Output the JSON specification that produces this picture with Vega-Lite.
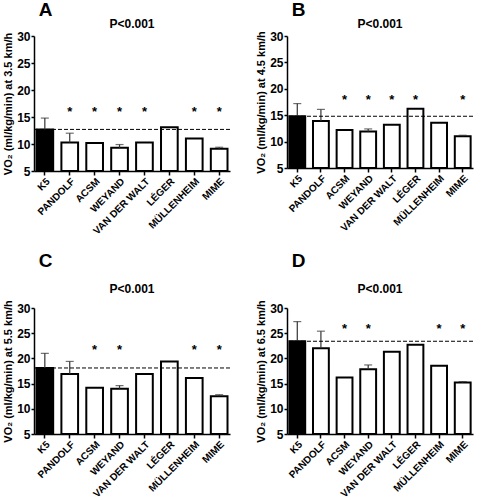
{
  "$schema": "https://vega.github.io/schema/vega-lite/v6.json",
  "padding": {"left": 2, "top": 1, "right": 2, "bottom": 0},
  "datasets": {
    "vo2": [
      {"panel": "A", "method": "K5", "value": 12.7, "err": 14.8, "sig": false, "star": 16.4},
      {"panel": "A", "method": "PANDOLF", "value": 10.3, "err": 12.0, "sig": true, "star": 16.4},
      {"panel": "A", "method": "ACSM", "value": 10.2, "err": null, "sig": true, "star": 16.4},
      {"panel": "A", "method": "WEYAND", "value": 9.3, "err": 9.9, "sig": true, "star": 16.4},
      {"panel": "A", "method": "VAN DER WALT", "value": 10.3, "err": null, "sig": true, "star": 16.4},
      {"panel": "A", "method": "LÉGER", "value": 13.1, "err": null, "sig": false, "star": 16.4},
      {"panel": "A", "method": "MÜLLENHEIM", "value": 11.0, "err": null, "sig": true, "star": 16.4},
      {"panel": "A", "method": "MIME", "value": 9.1, "err": 9.4, "sig": true, "star": 16.4},
      {"panel": "B", "method": "K5", "value": 14.8, "err": 17.2, "sig": false, "star": 18.5},
      {"panel": "B", "method": "PANDOLF", "value": 13.9, "err": 16.1, "sig": false, "star": 18.5},
      {"panel": "B", "method": "ACSM", "value": 12.2, "err": null, "sig": true, "star": 18.5},
      {"panel": "B", "method": "WEYAND", "value": 11.9, "err": 12.4, "sig": true, "star": 18.5},
      {"panel": "B", "method": "VAN DER WALT", "value": 13.2, "err": null, "sig": true, "star": 18.5},
      {"panel": "B", "method": "LÉGER", "value": 16.2, "err": null, "sig": true, "star": 18.5},
      {"panel": "B", "method": "MÜLLENHEIM", "value": 13.55, "err": null, "sig": false, "star": 18.5},
      {"panel": "B", "method": "MIME", "value": 11.0, "err": 11.2, "sig": true, "star": 18.5},
      {"panel": "C", "method": "K5", "value": 18.1, "err": 21.0, "sig": false, "star": 22.2},
      {"panel": "C", "method": "PANDOLF", "value": 16.9, "err": 19.4, "sig": false, "star": 22.2},
      {"panel": "C", "method": "ACSM", "value": 14.2, "err": null, "sig": true, "star": 22.2},
      {"panel": "C", "method": "WEYAND", "value": 14.0, "err": 14.6, "sig": true, "star": 22.2},
      {"panel": "C", "method": "VAN DER WALT", "value": 16.9, "err": null, "sig": false, "star": 22.2},
      {"panel": "C", "method": "LÉGER", "value": 19.4, "err": null, "sig": false, "star": 22.2},
      {"panel": "C", "method": "MÜLLENHEIM", "value": 16.1, "err": null, "sig": true, "star": 22.2},
      {"panel": "C", "method": "MIME", "value": 12.5, "err": 12.8, "sig": true, "star": 22.2},
      {"panel": "D", "method": "K5", "value": 23.4, "err": 27.3, "sig": false, "star": 26.5},
      {"panel": "D", "method": "PANDOLF", "value": 22.0, "err": 25.4, "sig": false, "star": 26.5},
      {"panel": "D", "method": "ACSM", "value": 16.2, "err": null, "sig": true, "star": 26.5},
      {"panel": "D", "method": "WEYAND", "value": 17.85, "err": 18.7, "sig": true, "star": 26.5},
      {"panel": "D", "method": "VAN DER WALT", "value": 21.3, "err": null, "sig": false, "star": 26.5},
      {"panel": "D", "method": "LÉGER", "value": 22.7, "err": null, "sig": false, "star": 26.5},
      {"panel": "D", "method": "MÜLLENHEIM", "value": 18.55, "err": null, "sig": true, "star": 26.5},
      {"panel": "D", "method": "MIME", "value": 15.2, "err": 15.4, "sig": true, "star": 26.5}
    ]
  },
  "data": {"name": "vo2"},
  "spacing": 15,
  "vconcat": [
    {
      "spacing": 24,
      "hconcat": [
        {
          "title": {"text": "A", "anchor": "start", "fontSize": 19, "dx": 36, "offset": -2},
          "vconcat": [{
            "width": 196, "height": 135,
            "title": {"text": "P<0.001", "fontSize": 12, "offset": -1},
            "transform": [{"filter": "datum.panel === 'A'"}],
            "layer": [
              {"mark": {"type": "bar", "stroke": "black", "strokeWidth": 2},
               "encoding": {
                 "x": {"field": "method", "type": "nominal", "sort": ["K5", "PANDOLF", "ACSM", "WEYAND", "VAN DER WALT", "LÉGER", "MÜLLENHEIM", "MIME"], "title": null},
                 "y": {"field": "value", "type": "quantitative", "scale": {"domain": [5, 30], "zero": false, "nice": false}, "axis": {"tickCount": 5, "labelOverlap": false}, "title": "VO₂ (ml/kg/min) at 3.5 km/h"},
                 "y2": {"datum": 5},
                 "fill": {"condition": {"test": "datum.method === 'K5'", "value": "black"}, "value": "white"}
               }},
              {"transform": [{"filter": "datum.err != null"}],
               "mark": {"type": "rule", "color": "#333", "strokeWidth": 1.2},
               "encoding": {
                 "x": {"field": "method", "type": "nominal", "sort": ["K5", "PANDOLF", "ACSM", "WEYAND", "VAN DER WALT", "LÉGER", "MÜLLENHEIM", "MIME"]},
                 "y": {"field": "value", "type": "quantitative"},
                 "y2": {"field": "err"}
               }},
              {"transform": [{"filter": "datum.err != null"}],
               "mark": {"type": "tick", "color": "#333", "thickness": 1.2, "size": 8},
               "encoding": {
                 "x": {"field": "method", "type": "nominal", "sort": ["K5", "PANDOLF", "ACSM", "WEYAND", "VAN DER WALT", "LÉGER", "MÜLLENHEIM", "MIME"]},
                 "y": {"field": "err", "type": "quantitative"}
               }},
              {"transform": [{"filter": "datum.method === 'K5'"}],
               "mark": {"type": "rule", "color": "black", "strokeDash": [4, 2], "strokeWidth": 1},
               "encoding": {"y": {"field": "value", "type": "quantitative"}}},
              {"transform": [{"filter": "datum.sig"}],
               "mark": {"type": "text", "text": "*", "fontSize": 13, "fontWeight": "bold", "baseline": "middle", "dy": 3},
               "encoding": {
                 "x": {"field": "method", "type": "nominal", "sort": ["K5", "PANDOLF", "ACSM", "WEYAND", "VAN DER WALT", "LÉGER", "MÜLLENHEIM", "MIME"]},
                 "y": {"field": "star", "type": "quantitative"}
               }}
            ]
          }]
        },
        {
          "title": {"text": "B", "anchor": "start", "fontSize": 19, "dx": 36, "offset": -2},
          "vconcat": [{
            "width": 186, "height": 132,
            "title": {"text": "P<0.001", "fontSize": 12, "offset": -1},
            "transform": [{"filter": "datum.panel === 'B'"}],
            "layer": [
              {"mark": {"type": "bar", "stroke": "black", "strokeWidth": 2},
               "encoding": {
                 "x": {"field": "method", "type": "nominal", "sort": ["K5", "PANDOLF", "ACSM", "WEYAND", "VAN DER WALT", "LÉGER", "MÜLLENHEIM", "MIME"], "title": null},
                 "y": {"field": "value", "type": "quantitative", "scale": {"domain": [5, 30], "zero": false, "nice": false}, "axis": {"tickCount": 5, "labelOverlap": false}, "title": "VO₂ (ml/kg/min) at 4.5 km/h"},
                 "y2": {"datum": 5},
                 "fill": {"condition": {"test": "datum.method === 'K5'", "value": "black"}, "value": "white"}
               }},
              {"transform": [{"filter": "datum.err != null"}],
               "mark": {"type": "rule", "color": "#333", "strokeWidth": 1.2},
               "encoding": {
                 "x": {"field": "method", "type": "nominal", "sort": ["K5", "PANDOLF", "ACSM", "WEYAND", "VAN DER WALT", "LÉGER", "MÜLLENHEIM", "MIME"]},
                 "y": {"field": "value", "type": "quantitative"},
                 "y2": {"field": "err"}
               }},
              {"transform": [{"filter": "datum.err != null"}],
               "mark": {"type": "tick", "color": "#333", "thickness": 1.2, "size": 8},
               "encoding": {
                 "x": {"field": "method", "type": "nominal", "sort": ["K5", "PANDOLF", "ACSM", "WEYAND", "VAN DER WALT", "LÉGER", "MÜLLENHEIM", "MIME"]},
                 "y": {"field": "err", "type": "quantitative"}
               }},
              {"transform": [{"filter": "datum.method === 'K5'"}],
               "mark": {"type": "rule", "color": "black", "strokeDash": [4, 2], "strokeWidth": 1},
               "encoding": {"y": {"field": "value", "type": "quantitative"}}},
              {"transform": [{"filter": "datum.sig"}],
               "mark": {"type": "text", "text": "*", "fontSize": 13, "fontWeight": "bold", "baseline": "middle", "dy": 3},
               "encoding": {
                 "x": {"field": "method", "type": "nominal", "sort": ["K5", "PANDOLF", "ACSM", "WEYAND", "VAN DER WALT", "LÉGER", "MÜLLENHEIM", "MIME"]},
                 "y": {"field": "star", "type": "quantitative"}
               }}
            ]
          }]
        }
      ]
    },
    {
      "spacing": 24,
      "hconcat": [
        {
          "title": {"text": "C", "anchor": "start", "fontSize": 19, "dx": 36, "offset": 12},
          "vconcat": [{
            "width": 196, "height": 126,
            "title": {"text": "P<0.001", "fontSize": 12, "offset": 4},
            "transform": [{"filter": "datum.panel === 'C'"}],
            "layer": [
              {"mark": {"type": "bar", "stroke": "black", "strokeWidth": 2},
               "encoding": {
                 "x": {"field": "method", "type": "nominal", "sort": ["K5", "PANDOLF", "ACSM", "WEYAND", "VAN DER WALT", "LÉGER", "MÜLLENHEIM", "MIME"], "title": null},
                 "y": {"field": "value", "type": "quantitative", "scale": {"domain": [5, 30], "zero": false, "nice": false}, "axis": {"tickCount": 5, "labelOverlap": false}, "title": "VO₂ (ml/kg/min) at 5.5 km/h"},
                 "y2": {"datum": 5},
                 "fill": {"condition": {"test": "datum.method === 'K5'", "value": "black"}, "value": "white"}
               }},
              {"transform": [{"filter": "datum.err != null"}],
               "mark": {"type": "rule", "color": "#333", "strokeWidth": 1.2},
               "encoding": {
                 "x": {"field": "method", "type": "nominal", "sort": ["K5", "PANDOLF", "ACSM", "WEYAND", "VAN DER WALT", "LÉGER", "MÜLLENHEIM", "MIME"]},
                 "y": {"field": "value", "type": "quantitative"},
                 "y2": {"field": "err"}
               }},
              {"transform": [{"filter": "datum.err != null"}],
               "mark": {"type": "tick", "color": "#333", "thickness": 1.2, "size": 8},
               "encoding": {
                 "x": {"field": "method", "type": "nominal", "sort": ["K5", "PANDOLF", "ACSM", "WEYAND", "VAN DER WALT", "LÉGER", "MÜLLENHEIM", "MIME"]},
                 "y": {"field": "err", "type": "quantitative"}
               }},
              {"transform": [{"filter": "datum.method === 'K5'"}],
               "mark": {"type": "rule", "color": "black", "strokeDash": [4, 2], "strokeWidth": 1},
               "encoding": {"y": {"field": "value", "type": "quantitative"}}},
              {"transform": [{"filter": "datum.sig"}],
               "mark": {"type": "text", "text": "*", "fontSize": 13, "fontWeight": "bold", "baseline": "middle", "dy": 3},
               "encoding": {
                 "x": {"field": "method", "type": "nominal", "sort": ["K5", "PANDOLF", "ACSM", "WEYAND", "VAN DER WALT", "LÉGER", "MÜLLENHEIM", "MIME"]},
                 "y": {"field": "star", "type": "quantitative"}
               }}
            ]
          }]
        },
        {
          "title": {"text": "D", "anchor": "start", "fontSize": 19, "dx": 36, "offset": 12},
          "vconcat": [{
            "width": 186, "height": 126,
            "title": {"text": "P<0.001", "fontSize": 12, "offset": 4},
            "transform": [{"filter": "datum.panel === 'D'"}],
            "layer": [
              {"mark": {"type": "bar", "stroke": "black", "strokeWidth": 2},
               "encoding": {
                 "x": {"field": "method", "type": "nominal", "sort": ["K5", "PANDOLF", "ACSM", "WEYAND", "VAN DER WALT", "LÉGER", "MÜLLENHEIM", "MIME"], "title": null},
                 "y": {"field": "value", "type": "quantitative", "scale": {"domain": [5, 30], "zero": false, "nice": false}, "axis": {"tickCount": 5, "labelOverlap": false}, "title": "VO₂ (ml/kg/min) at 6.5 km/h"},
                 "y2": {"datum": 5},
                 "fill": {"condition": {"test": "datum.method === 'K5'", "value": "black"}, "value": "white"}
               }},
              {"transform": [{"filter": "datum.err != null"}],
               "mark": {"type": "rule", "color": "#333", "strokeWidth": 1.2},
               "encoding": {
                 "x": {"field": "method", "type": "nominal", "sort": ["K5", "PANDOLF", "ACSM", "WEYAND", "VAN DER WALT", "LÉGER", "MÜLLENHEIM", "MIME"]},
                 "y": {"field": "value", "type": "quantitative"},
                 "y2": {"field": "err"}
               }},
              {"transform": [{"filter": "datum.err != null"}],
               "mark": {"type": "tick", "color": "#333", "thickness": 1.2, "size": 8},
               "encoding": {
                 "x": {"field": "method", "type": "nominal", "sort": ["K5", "PANDOLF", "ACSM", "WEYAND", "VAN DER WALT", "LÉGER", "MÜLLENHEIM", "MIME"]},
                 "y": {"field": "err", "type": "quantitative"}
               }},
              {"transform": [{"filter": "datum.method === 'K5'"}],
               "mark": {"type": "rule", "color": "black", "strokeDash": [4, 2], "strokeWidth": 1},
               "encoding": {"y": {"field": "value", "type": "quantitative"}}},
              {"transform": [{"filter": "datum.sig"}],
               "mark": {"type": "text", "text": "*", "fontSize": 13, "fontWeight": "bold", "baseline": "middle", "dy": 3},
               "encoding": {
                 "x": {"field": "method", "type": "nominal", "sort": ["K5", "PANDOLF", "ACSM", "WEYAND", "VAN DER WALT", "LÉGER", "MÜLLENHEIM", "MIME"]},
                 "y": {"field": "star", "type": "quantitative"}
               }}
            ]
          }]
        }
      ]
    }
  ],
  "config": {
    "font": "Liberation Sans",
    "view": {"stroke": null},
    "scale": {"bandPaddingInner": 0.33, "bandPaddingOuter": 0.1},
    "title": {"font": "Liberation Sans", "fontWeight": "bold", "color": "black"},
    "axis": {
      "grid": false,
      "domainColor": "black",
      "domainWidth": 1.5,
      "tickColor": "black",
      "tickWidth": 1.5,
      "tickSize": 4,
      "labelColor": "black",
      "labelFont": "Liberation Sans",
      "labelFontWeight": "bold",
      "labelFontSize": 12,
      "titleFont": "Liberation Sans",
      "titleFontWeight": "bold",
      "titleFontSize": 11,
      "titleColor": "black"
    },
    "axisY": {"titlePadding": 3, "labelPadding": 1, "labelOverlap": false, "tickSize": 3},
    "axisX": {"labelAngle": -45, "labelFontSize": 10, "labelPadding": 1}
  }
}
